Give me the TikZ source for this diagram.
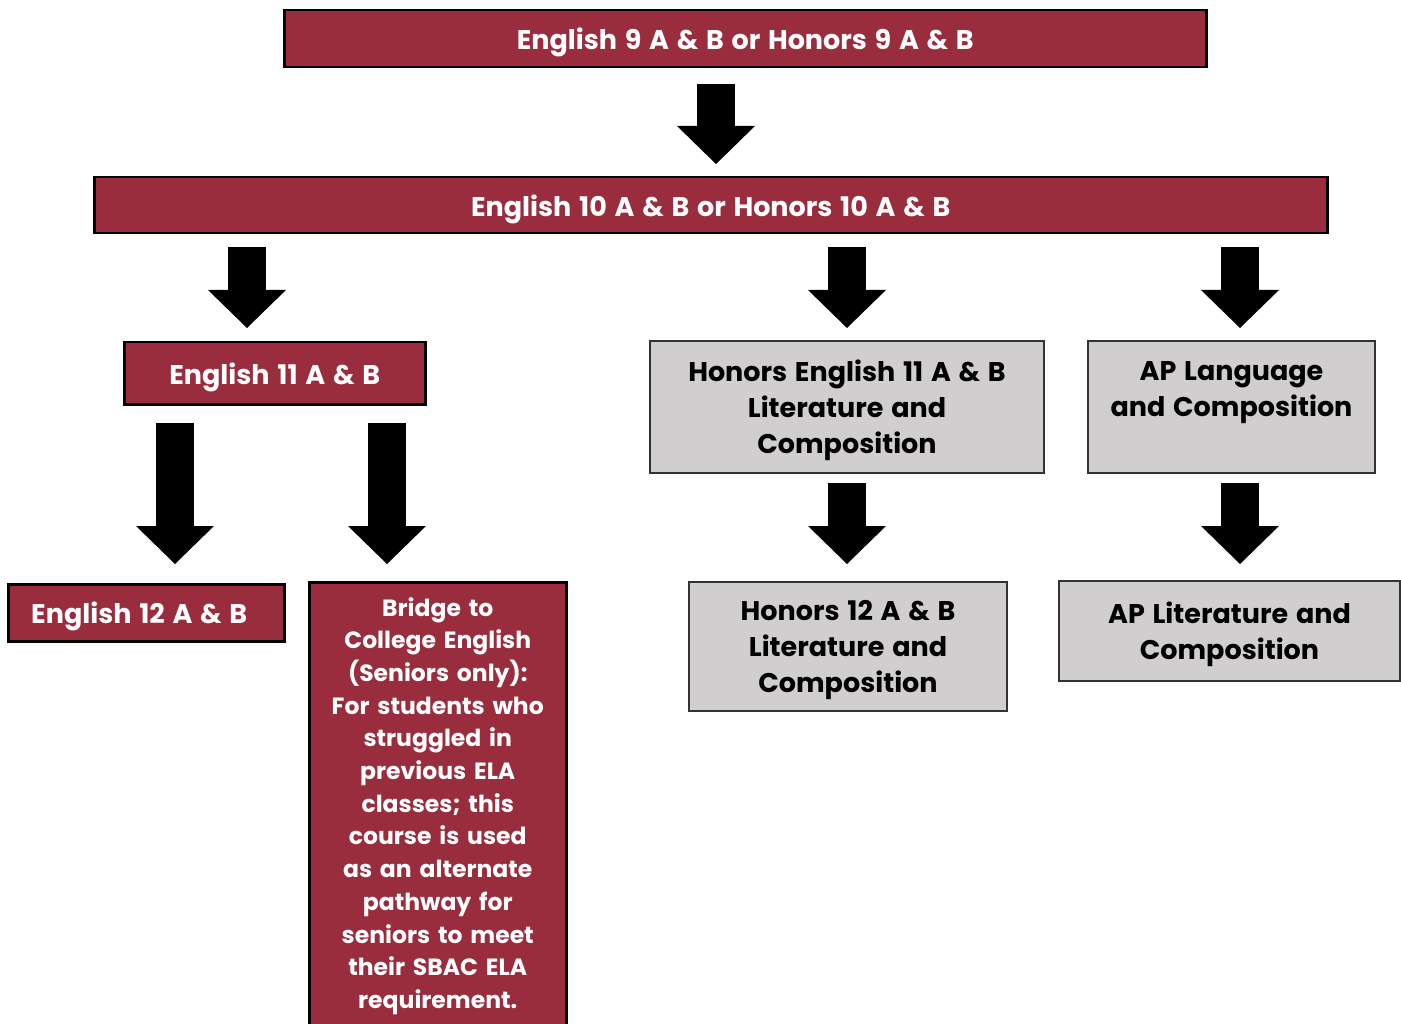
\documentclass[tikz,border=0pt]{standalone}
\usepackage{fontspec}
\setmainfont{Poppins}[WordSpace=1.35]
\usetikzlibrary{arrows.meta,calc}
\definecolor{maroon}{RGB}{154,45,61}
\definecolor{lgray}{RGB}{208,206,207}
\begin{document}
\begin{tikzpicture}[x=1pt,y=-1pt,
  redbase/.style={draw=black, line width=2.5pt, fill=maroon, text=white,
    font=\bfseries\fontsize{27}{33}\selectfont, align=center, anchor=north west, inner sep=0pt},
  redbox/.style={redbase, text depth=0pt},
  graybox/.style={draw=black!80, line width=2pt, fill=lgray, text=black, text depth=0pt,
    font=\bfseries\fontsize{27}{36}\selectfont, align=center, anchor=north west, inner sep=0pt},
  blockarrow/.style={black, line width=38pt, -{Triangle[width=78pt,length=38pt,line width=0pt]}}]
\useasboundingbox (0,0) rectangle (1401,1024);
\fill[white] (0,0) rectangle (1401,1024);

\node[redbox, minimum width=922pt, minimum height=57pt] (top) at (283,9) {English 9 A \& B or Honors 9 A \& B};
\node[redbox, minimum width=1233pt, minimum height=56pt] (mid) at (93,176) {English 10 A \& B or Honors 10 A \& B};
\node[redbox, minimum width=301pt, minimum height=62pt] (e11) at (123,341) {English 11 A \& B};
\node[graybox, minimum width=394pt, minimum height=132pt] (h11) at (649,340) {Honors English 11 A \& B\\Literature and\\Composition};
\node[graybox, minimum width=287pt, minimum height=132pt] (apl) at (1087,340) {AP Language\\and Composition\\~};
\node[redbox, minimum width=276pt, minimum height=57pt] (e12) at (7,583) {English 12 A \& B\hspace{14pt}};
\node[redbase, text width=257pt, inner ysep=15pt, font=\bfseries\fontsize{23.5}{32.7}\selectfont] (bri) at (308,581)
  {Bridge to\\College English\\(Seniors only):\\For students who\\struggled in\\previous ELA\\classes; this\\course is used\\as an alternate\\pathway for\\seniors to meet\\their SBAC ELA\\requirement.\\~};
\node[graybox, minimum width=318pt, minimum height=129pt] (h12) at (688,581) {Honors 12 A \& B\\Literature and\\Composition};
\node[graybox, minimum width=341pt, minimum height=100pt] (apt) at (1058,580) {AP Literature and\\Composition};

\coordinate (c0) at (716,0);
\coordinate (c1) at (247,0);
\coordinate (c2) at (847,0);
\coordinate (c3) at (1240,0);
\coordinate (c4) at (175,0);
\coordinate (c5) at (387,0);

\draw[blockarrow] ($(top.south -| c0)+(0,16)$) -- ($(mid.north -| c0)+(0,-12)$);
\draw[blockarrow] ($(mid.south -| c1)+(0,13)$) -- ($(e11.north -| c1)+(0,-13)$);
\draw[blockarrow] ($(mid.south -| c2)+(0,13)$) -- ($(h11.north -| c2)+(0,-12)$);
\draw[blockarrow] ($(mid.south -| c3)+(0,13)$) -- ($(apl.north -| c3)+(0,-12)$);
\draw[blockarrow] ($(e11.south -| c4)+(0,17)$) -- ($(e12.north -| c4)+(0,-19)$);
\draw[blockarrow] ($(e11.south -| c5)+(0,17)$) -- ($(bri.north -| c5)+(0,-17)$);
\draw[blockarrow] ($(h11.south -| c2)+(0,9)$) -- ($(h12.north -| c2)+(0,-17)$);
\draw[blockarrow] ($(apl.south -| c3)+(0,9)$) -- ($(apt.north -| c3)+(0,-16)$);
\end{tikzpicture}
\end{document}
